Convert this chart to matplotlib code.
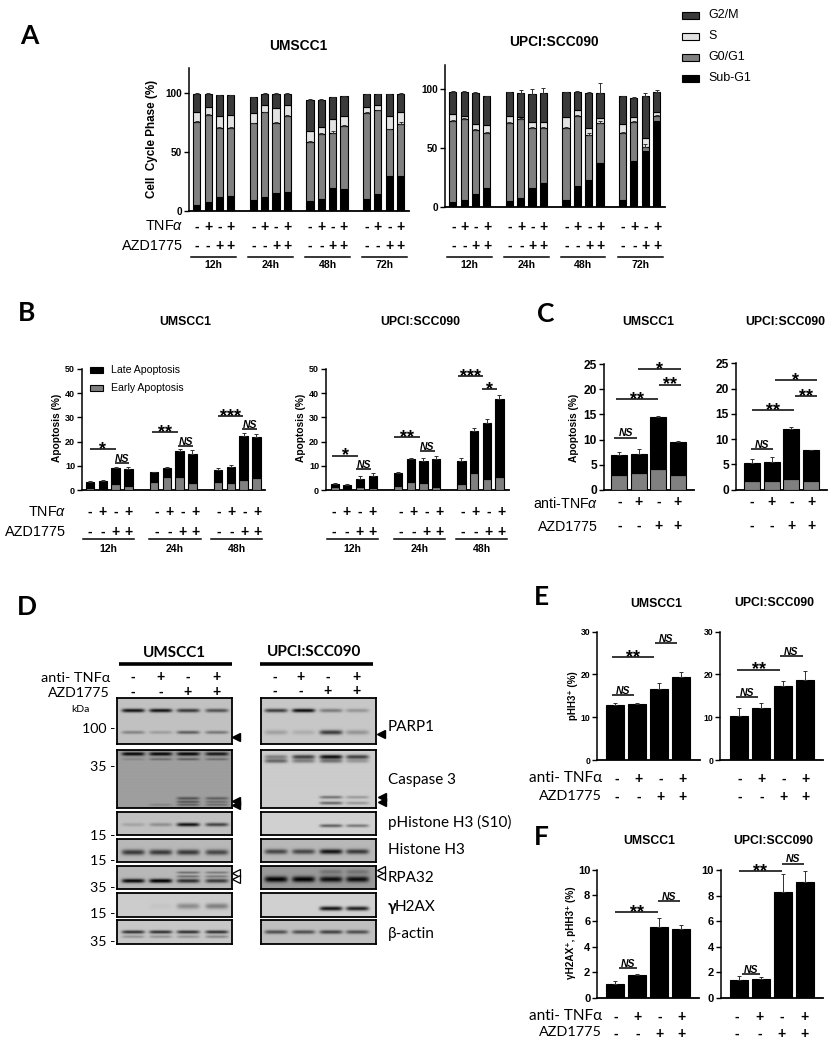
import numpy as np
import matplotlib
matplotlib.use("Agg")
import matplotlib.pyplot as plt
from matplotlib.patches import Rectangle

W, H = 837, 1050
plt.rcParams["font.family"] = ["Liberation Sans", "DejaVu Sans"]
plt.rcParams["mathtext.fontset"] = "custom"
plt.rcParams["mathtext.rm"] = "Liberation Sans"
plt.rcParams["mathtext.it"] = "Liberation Sans:italic"
plt.rcParams["mathtext.bf"] = "Liberation Sans:bold"
CAL = ["Lato", "Open Sans", "DejaVu Sans"]

# panel A, cumulative tops of the stacks
a1_sub = [5, 8, 12, 13, 9, 12, 15.5, 16, 8.5, 10, 19.5, 19, 10, 14.5, 30, 30]
a1_g0 = [75, 81, 70, 70, 74, 83.5, 74, 80, 58, 65, 66, 72, 82.5, 85, 69, 73.5]
a1_s = [84, 88, 80, 81, 82.5, 90, 87, 90, 68, 71, 78, 80, 88, 90, 80, 83.5]
a1_g2 = [99, 99, 98, 98, 96, 99, 99, 99, 94, 94, 96, 97, 99, 99, 98.5, 99]
a1_g2_err = [.8, .4, .4, .4, .4, .4, .4, .4, .4, .3, .4, .4, .3, .3, .3, 1]
a1_g0_err = [.8, .8, 1, .8, .6, .6, 1, .8, 1.2, .8, 2, 1, .8, .4, .6, 2]
a2_sub = [4.5, 5.5, 11, 16, 5, 8, 16, 20, 6, 18, 23, 37, 5.5, 39, 47, 73]
a2_g0 = [73, 74.5, 65, 62.5, 71, 74.5, 67, 66.5, 67, 77, 61, 71, 62.5, 72, 51, 77]
a2_s = [79, 77, 70, 69.5, 77, 76, 72, 72, 76, 82, 67, 75, 70, 76, 58, 80]
a2_g2 = [97.5, 97.5, 96.5, 93.5, 97, 96.5, 95.5, 96.5, 97, 97.5, 96.5, 96.5, 93.5, 92.5, 93.5, 97]
a2_g2_err = [.4, .5, .4, .5, .3, 2.5, 4.5, 4, .5, .3, .3, 8, .3, .3, 2.5, 2]
a2_g0_err = [.8, .8, 1, 1.2, .6, .6, 1, 1, 1, .6, 1.5, 2, 1, 1, 2, 1]
a_groups = ["12h", "24h", "48h", "72h"]
a_pos = [0, 1, 2, 3, 5, 6, 7, 8, 10, 11, 12, 13, 15, 16, 17, 18]

# panel B, total height and early part
b1_total = [3.5, 3.8, 9.2, 8.6, 7.4, 9.2, 16.3, 14.7, 8.2, 9.3, 22.2, 21.7]
b1_early = [.8, .5, 2.4, 1.5, 3.3, 5.5, 5.2, 3.0, 3.2, 2.7, 4.3, 5]
b1_err = [.3, .2, .2, .9, .2, .2, .5, 1.7, 1, .9, 1.5, 1.4]
b2_total = [2.5, 2.1, 4.7, 5.6, 6.9, 12.7, 11.9, 12.9, 12, 24.4, 27.8, 37.8]
b2_early = [1.2, .6, 1.1, .9, 1.5, 3.4, 2.7, 1.4, 2.5, 7.2, 4.4, 5.5]
b2_err = [.5, .4, 1.2, 1.4, .4, .4, 1.2, 1.2, 1.4, 1.1, 1.4, 1.4]
b_groups = ["12h", "24h", "48h"]
b_pos = [0, 1, 2, 3, 5, 6, 7, 8, 10, 11, 12, 13]

# panel C
c1_total = [6.9, 7.2, 14.4, 9.6]
c1_early = [3, 3.3, 4.1, 3]
c1_err = [.7, .9, .3, .05]
c2_total = [5.3, 5.5, 12.1, 7.9]
c2_early = [1.7, 1.8, 2.2, 1.7]
c2_err = [.7, 1, .3, .05]

# panels E and F
e1_vals = [12.8, 13.1, 16.7, 19.5]
e1_err = [.5, .3, 1.3, 1.1]
e2_vals = [10.4, 12.2, 17.3, 18.6]
e2_err = [1.8, 1.1, 1.1, 2.2]
f1_vals = [1.1, 1.8, 5.5, 5.4]
f1_err = [.2, .1, .7, .3]
f2_vals = [1.4, 1.45, 8.3, 9.1]
f2_err = [.3, .2, 1.35, .8]

tnf_signs = ["-", "+", "-", "+"]
azd_signs = ["-", "-", "+", "+"]

# blot bands: y fraction, thickness, darkness per lane
blots_left = [
    ("PARP1", .76, [(.27, .04, [.7, .7, .55, .45]), (.75, .035, [.25, .15, .4, .3])]),
    ("Caspase 3", .62, [(.08, .03, [.62, .62, .62, .55]), (.17, .02, [.1, .2, .25, .2]),
                        (.84, .025, [0, 0, .3, .25]), (.9, .02, [0, 0, .3, .2]), (.95, .02, [0, .1, .25, .2])]),
    ("pHistone H3 (S10)", .76, [(.55, .08, [.12, .2, .7, .5])]),
    ("Histone H3", .72, [(.58, .12, [.5, .5, .5, .45])]),
    ("RPA32", .72, [(.28, .05, [0, 0, .3, .25]), (.45, .05, [0, 0, .3, .25]), (.65, .09, [.7, .75, .55, .5])]),
    ("H2AX", .8, [(.55, .12, [0, .03, .25, .3])]),
    ("actin", .78, [(.5, .07, [.6, .6, .6, .6]), (.7, .06, [.2, .2, .2, .25])]),
]
blots_right = [
    ("PARP1", .78, [(.27, .04, [.55, .75, .3, .2]), (.75, .05, [.15, .1, .55, .2])]),
    ("Caspase 3", .8, [(.13, .035, [.3, .55, .75, .55]), (.2, .035, [.4, .3, .35, .2]),
                       (.82, .025, [0, 0, .35, .2]), (.92, .025, [0, 0, .4, .2])]),
    ("pHistone H3 (S10)", .82, [(.6, .07, [0, 0, .45, .35])]),
    ("Histone H3", .72, [(.55, .11, [.45, .45, .65, .5])]),
    ("RPA32", .6, [(.58, .13, [.6, .6, .55, .55]), (.25, .1, [0, 0, .15, .15])]),
    ("H2AX", .82, [(.65, .09, [0, 0, .75, .7])]),
    ("actin", .75, [(.5, .08, [.45, .45, .5, .45])]),
]
blot_rows = [(698, 744), (750, 808), (812, 835), (839, 862), (866, 889), (893, 917), (920, 944)]
mw_labels = ["100 -", "35 -", "15 -", "15 -", "35 -", "15 -", "35 -"]
mw_y = [729, 767, 836, 861, 888, 914, 942]

fig = plt.figure(figsize=(W / 100, H / 100), dpi=100, facecolor="white")
ov = fig.add_axes([0, 0, 1, 1], zorder=10)
ov.set_xlim(0, W)
ov.set_ylim(H, 0)
ov.axis("off")
ov.patch.set_alpha(0)


def px_axes(left, right, top, bottom, first, step, ymax, yticks, tick_size):
    ax = fig.add_axes([left / W, 1 - bottom / H, (right - left) / W, (bottom - top) / H])
    ax.set_xlim((left - first) / step, (right - first) / step)
    ax.set_ylim(0, ymax)
    ax.set_xticks([])
    ax.set_yticks(yticks)
    ax.tick_params(axis="y", length=3.5, width=1, pad=1.5, labelsize=tick_size)
    for lab in ax.get_yticklabels():
        lab.set_fontweight("bold")
    ax.spines["top"].set_visible(False)
    ax.spines["right"].set_visible(False)
    ax.spines["left"].set_linewidth(1.1)
    ax.spines["bottom"].set_linewidth(1.3)
    return ax


def stack_bars(ax, pos, tops, colors, width, errs=None):
    bottom = np.zeros(len(pos))
    for top, color in zip(tops, colors):
        top = np.array(top, dtype=float)
        ax.bar(pos, top - bottom, width, bottom=bottom, color=color, edgecolor="black", linewidth=.8, zorder=3)
        bottom = top
    if errs:
        for top, err in errs:
            ax.errorbar(pos, top, yerr=[np.zeros(len(pos)), err], fmt="none", ecolor="#303030",
                        elinewidth=.7, capsize=1.5, capthick=.7, zorder=4, clip_on=False)


def sig(ax, x0, x1, y, label):
    ax.plot([x0, x1], [y, y], color="black", lw=1.1, clip_on=False, solid_capstyle="butt", zorder=6)
    xc = (x0 + x1) / 2
    if label == "NS":
        ax.annotate(label, (xc, y), xytext=(0, .8), textcoords="offset points", ha="center", va="baseline",
                    fontsize=7.5, fontweight="bold", fontstyle="italic", annotation_clip=False)
    else:
        ax.annotate(label, (xc, y), xytext=(0, -3.4), textcoords="offset points", ha="center",
                    va="baseline", fontsize=13, fontweight="bold", annotation_clip=False)


def sign_rows(xs, y1, y2, size=10):
    for x, a, b in zip(xs, tnf_signs * (len(xs) // 4), azd_signs * (len(xs) // 4)):
        ov.text(x, y1, a, ha="center", va="center", fontsize=size, fontweight="bold")
        ov.text(x, y2, b, ha="center", va="center", fontsize=size, fontweight="bold")


def title(x, y, txt, size):
    ov.text(x, y, txt, ha="center", va="center", fontsize=size, fontweight="bold")


def group_lines(spans, names, y_line, y_text, size=7.6):
    for (x0, x1), name in zip(spans, names):
        ov.plot([x0, x1], [y_line, y_line], color="black", lw=1.1)
        ov.text((x0 + x1) / 2, y_text, name, ha="center", va="center", fontsize=size, fontweight="bold")


phase_colors = ["black", "#808080", "#e2e2e2", "#3a3a3a"]
apo_colors = ["#808080", "black"]

# panel A
ax = px_axes(189, 409, 68, 211, 196.7, 11.33, 120.9, [0, 50, 100], 7.2)
stack_bars(ax, a_pos, [a1_sub, a1_g0, a1_s, a1_g2], phase_colors, .62, [(a1_g2, a1_g2_err), (a1_g0, a1_g0_err)])
ax = px_axes(445, 665, 65, 207, 452.7, 11.33, 120, [0, 50, 100], 7.2)
stack_bars(ax, a_pos, [a2_sub, a2_g0, a2_s, a2_g2], phase_colors, .62, [(a2_g2, a2_g2_err), (a2_g0, a2_g0_err)])
ov.text(152, 139, "Cell  Cycle Phase (%)", rotation=90, ha="center", va="center", fontsize=8.4, fontweight="bold")
title(298, 46, "UMSCC1", 9.9)
title(554, 42, "UPCI:SCC090", 9.9)
ov.text(183, 226.5, r"TNF$\mathit{\alpha}$", ha="right", va="center", fontsize=10.4)
ov.text(183, 246, "AZD1775", ha="right", va="center", fontsize=10.4)
sign_rows([196.7 + 11.33 * p for p in a_pos], 227, 246)
sign_rows([453.3 + 11.33 * p for p in a_pos], 227, 246)
group_lines([(191, 236), (248, 293), (305, 350), (362, 407)], a_groups, 257, 265)
group_lines([(447, 492), (504, 549), (561, 605), (618, 663)], a_groups, 257, 265)
for y, name, color in zip([15, 36, 57, 78], ["G2/M", "S", "G0/G1", "Sub-G1"], phase_colors[::-1]):
    ov.add_patch(Rectangle((682, y - 3.5), 17, 7, facecolor=color, edgecolor="black", lw=.8))
    ov.text(708, y, name, ha="left", va="center", fontsize=9)

# panel B
ax = px_axes(82, 265, 369, 490, 90, 12.8, 50, [0, 10, 20, 30, 40, 50], 6.5)
stack_bars(ax, b_pos, [b1_early, b1_total], apo_colors, .65, [(b1_total, b1_err)])
sig(ax, 0, 2, 16.8, "*")
sig(ax, 1.95, 3.05, 11.3, "NS")
sig(ax, 4.85, 6.85, 24, "**")
sig(ax, 6.9, 8.05, 18.3, "NS")
sig(ax, 10, 11.95, 30.6, "***")
sig(ax, 11.9, 13.05, 25.3, "NS")
ax = px_axes(326, 509, 369, 490, 334.7, 12.67, 50, [0, 10, 20, 30, 40, 50], 6.5)
stack_bars(ax, b_pos, [b2_early, b2_total], apo_colors, .65, [(b2_total, b2_err)])
sig(ax, -.2, 1.85, 14.2, "*")
sig(ax, 1.7, 2.9, 8.8, "NS")
sig(ax, 4.7, 6.75, 21.9, "**")
sig(ax, 6.7, 7.9, 16.1, "NS")
sig(ax, 9.7, 11.7, 47, "***")
sig(ax, 11.6, 12.8, 41.6, "*")
ov.text(57, 428, "Apoptosis (%)", rotation=90, ha="center", va="center", fontsize=7.3, fontweight="bold")
ov.text(301, 428, "Apoptosis (%)", rotation=90, ha="center", va="center", fontsize=7.3, fontweight="bold")
title(185, 322, "UMSCC1", 8.8)
title(420, 322, "UPCI:SCC090", 8.8)
ov.text(66, 512, r"TNF$\mathit{\alpha}$", ha="right", va="center", fontsize=10.4)
ov.text(66, 532, "AZD1775", ha="right", va="center", fontsize=10.4)
b1_sign_x = [89.5, 102.5, 115.5, 128.5, 156.5, 169.5, 182.5, 195.5, 218.5, 231.5, 244.5, 257.5]
b2_sign_x = [334, 347, 360, 373, 401, 414, 427, 440, 463, 476, 489, 502]
sign_rows(b1_sign_x, 512, 532)
sign_rows(b2_sign_x, 512, 532)
group_lines([(83, 134), (149, 201), (211, 262)], b_groups, 539, 549)
group_lines([(327, 378), (394, 445), (456, 507)], b_groups, 539, 549)
for y, name, color in zip([370, 388], ["Late Apoptosis", "Early Apoptosis"], ["black", "#808080"]):
    ov.add_patch(Rectangle((90, y - 3), 13, 6, facecolor=color, edgecolor="black", lw=.8))
    ov.text(111, y, name, ha="left", va="center", fontsize=7.6)

# panel C
ax = px_axes(603.7, 694, 364.3, 489.7, 619.3, 19.56, 25, [0, 5, 10, 15, 20, 25], 8.6)
stack_bars(ax, range(4), [c1_early, c1_total], apo_colors, .82, [(c1_total, c1_err)])
sig(ax, -.25, .9, 10.4, "NS")
sig(ax, -.17, 2, 18, "**")
sig(ax, .94, 3.13, 24, "*")
sig(ax, 2.03, 3.15, 20.9, "**")
ax = px_axes(735.7, 826.7, 363.3, 489.7, 752, 19.67, 25, [0, 5, 10, 15, 20, 25], 8.6)
stack_bars(ax, range(4), [c2_early, c2_total], apo_colors, .82, [(c2_total, c2_err)])
sig(ax, -.03, 1.08, 8, "NS")
sig(ax, 0, 2.15, 15.7, "**")
sig(ax, 1.17, 3.3, 21.6, "*")
sig(ax, 2.2, 3.3, 18.5, "**")
ov.text(574, 428, "Apoptosis (%)", rotation=90, ha="center", va="center", fontsize=7.3, fontweight="bold")
title(648, 322, "UMSCC1", 8.8)
title(785, 322, "UPCI:SCC090", 8.8)
ov.text(598, 503, r"anti-TNF$\mathit{\alpha}$", ha="right", va="center", fontsize=10.2)
ov.text(598, 527, "AZD1775", ha="right", va="center", fontsize=10.2)
sign_rows([619.3 + 19.56 * p for p in range(4)], 502, 526)
sign_rows([752 + 19.67 * p for p in range(4)], 502, 526)

# panel E
ax = px_axes(597.3, 700, 631.7, 760, 615.3, 22, 30, [0, 10, 20, 30], 6.2)
stack_bars(ax, range(4), [e1_vals], ["black"], .82, [(e1_vals, e1_err)])
sig(ax, -.14, .86, 15.2, "NS")
sig(ax, -.17, 1.76, 24.1, "**")
sig(ax, 1.79, 2.79, 27.4, "NS")
ax = px_axes(720, 822.7, 631.7, 760, 739, 22, 30, [0, 10, 20, 30], 6.2)
stack_bars(ax, range(4), [e2_vals], ["black"], .82, [(e2_vals, e2_err)])
sig(ax, -.12, .88, 14.8, "NS")
sig(ax, -.08, 1.86, 21.1, "**")
sig(ax, 1.88, 2.89, 24.4, "NS")
ov.text(573, 696, "pHH3\u207a (%)", rotation=90, ha="center", va="center", fontsize=7, fontweight="bold")
title(656, 604, "UMSCC1", 8.8)
title(774, 603, "UPCI:SCC090", 8.8)
ov.text(602, 778, "anti- TNF\u03b1", ha="right", va="center", fontsize=11, family=CAL)
ov.text(602, 796, "AZD1775", ha="right", va="center", fontsize=10.4, family=CAL)
sign_rows([617 + 22 * p for p in range(4)], 779, 797)
sign_rows([740 + 22 * p for p in range(4)], 779, 797)

# panel F
ax = px_axes(597.3, 699, 869.7, 998, 615.3, 22, 10, [0, 2, 4, 6, 8, 10], 8)
stack_bars(ax, range(4), [f1_vals], ["black"], .82, [(f1_vals, f1_err)])
sig(ax, .17, .97, 2.3, "NS")
sig(ax, 0, 1.94, 6.7, "**")
sig(ax, 1.95, 2.95, 7.56, "NS")
ax = px_axes(721, 822.7, 870, 998, 739, 22, 10, [0, 2, 4, 6, 8, 10], 8)
stack_bars(ax, range(4), [f2_vals], ["black"], .82, [(f2_vals, f2_err)])
sig(ax, .12, .97, 1.9, "NS")
sig(ax, 0, 1.94, 9.9, "**")
sig(ax, 1.97, 2.97, 10.5, "NS")
ov.text(571, 933, "\u03b3H2AX\u207a, pHH3\u207a (%)", rotation=90, ha="center", va="center", fontsize=7.2, fontweight="bold")
title(649, 841, "UMSCC1", 8.8)
title(773, 841, "UPCI:SCC090", 8.8)
ov.text(602, 1016, "anti- TNF\u03b1", ha="right", va="center", fontsize=11, family=CAL)
ov.text(602, 1032, "AZD1775", ha="right", va="center", fontsize=10.4, family=CAL)
sign_rows([616 + 22 * p for p in range(4)], 1017, 1034)
sign_rows([737 + 22.5 * p for p in range(4)], 1017, 1034)


# panel D, western blots
def blot(left, right, top, bottom, bg, rows, lanes):
    ax = fig.add_axes([left / W, 1 - bottom / H, (right - left) / W, (bottom - top) / H])
    xx, yy = np.meshgrid(np.linspace(0, 1, (right - left) * 2), np.linspace(0, 1, (bottom - top) * 2))
    img = np.full(xx.shape, float(bg))
    for y0, thick, darks in rows:
        for lane, dark in zip(lanes, darks):
            img -= dark * np.exp(-((yy - y0) / thick) ** 2) * np.exp(-((xx - lane) / .1) ** 6)
    ax.imshow(np.clip(img, 0, 1), cmap="gray", vmin=0, vmax=1, aspect="auto", interpolation="bilinear")
    ax.set_xticks([])
    ax.set_yticks([])
    for s in ax.spines.values():
        s.set_linewidth(1.3)


for (top, bottom), (_, bg, rows) in zip(blot_rows, blots_left):
    blot(117, 232, top, bottom, bg, rows, [.14, .38, .62, .87])
for (top, bottom), (_, bg, rows) in zip(blot_rows, blots_right):
    blot(261, 376, top, bottom, bg, rows, [.13, .37, .61, .84])

ov.text(174, 653, "UMSCC1", ha="center", va="center", fontsize=11, fontweight="bold", family=CAL)
ov.text(314, 652, "UPCI:SCC090", ha="center", va="center", fontsize=11, fontweight="bold", family=CAL)
ov.plot([119, 232], [664, 664], color="black", lw=2.6, solid_capstyle="butt")
ov.plot([260, 373], [664, 664], color="black", lw=2.6, solid_capstyle="butt")
ov.text(110, 678, "anti- TNF\u03b1", ha="right", va="center", fontsize=10.4, family=CAL)
ov.text(110, 693, "AZD1775", ha="right", va="center", fontsize=10.2, family=CAL)
sign_rows([133, 161, 188, 217], 677, 692)
sign_rows([275, 301, 328, 357], 677, 691)
ov.text(80, 710, "kDa", ha="center", va="center", fontsize=7.5, family=CAL)
for y, lab in zip(mw_y, mw_labels):
    ov.text(115, y, lab, ha="right", va="center", fontsize=10.2, family=CAL)

blot_names = ["PARP1", "Caspase 3", "pHistone H3 (S10)", "Histone H3", "RPA32", None, "\u03b2-actin"]
for y, name in zip([727, 780, 822, 850, 878, 907, 934], blot_names):
    if name:
        ov.text(388, y, name, ha="left", va="center", fontsize=11, family=CAL)
ov.text(388, 907, "\u03b3", ha="left", va="center", fontsize=11, fontweight="bold", family=CAL)
ov.text(395, 907, "H2AX", ha="left", va="center", fontsize=11, family=CAL)

ov.plot([236, 236, 236], [737, 800.5, 805], "<", color="black", ms=6)
ov.plot([381, 382, 382], [734, 797, 802], "<", color="black", ms=6)
ov.plot([236, 236], [873, 879], "<", mfc="white", mec="black", ms=5.5, mew=.9)
ov.plot([381, 381], [870, 876], "<", mfc="white", mec="black", ms=5.5, mew=.9)

for x, y, letter in [(29, 36, "A"), (27, 313, "B"), (546, 314, "C"), (27, 607, "D"), (541, 597, "E"), (541, 837, "F")]:
    ov.text(x, y, letter, ha="center", va="center", fontsize=19, fontweight="bold", family=CAL)

ov.set_xlim(0, W)
ov.set_ylim(H, 0)
fig.savefig("out.png", dpi=100, facecolor="white")
